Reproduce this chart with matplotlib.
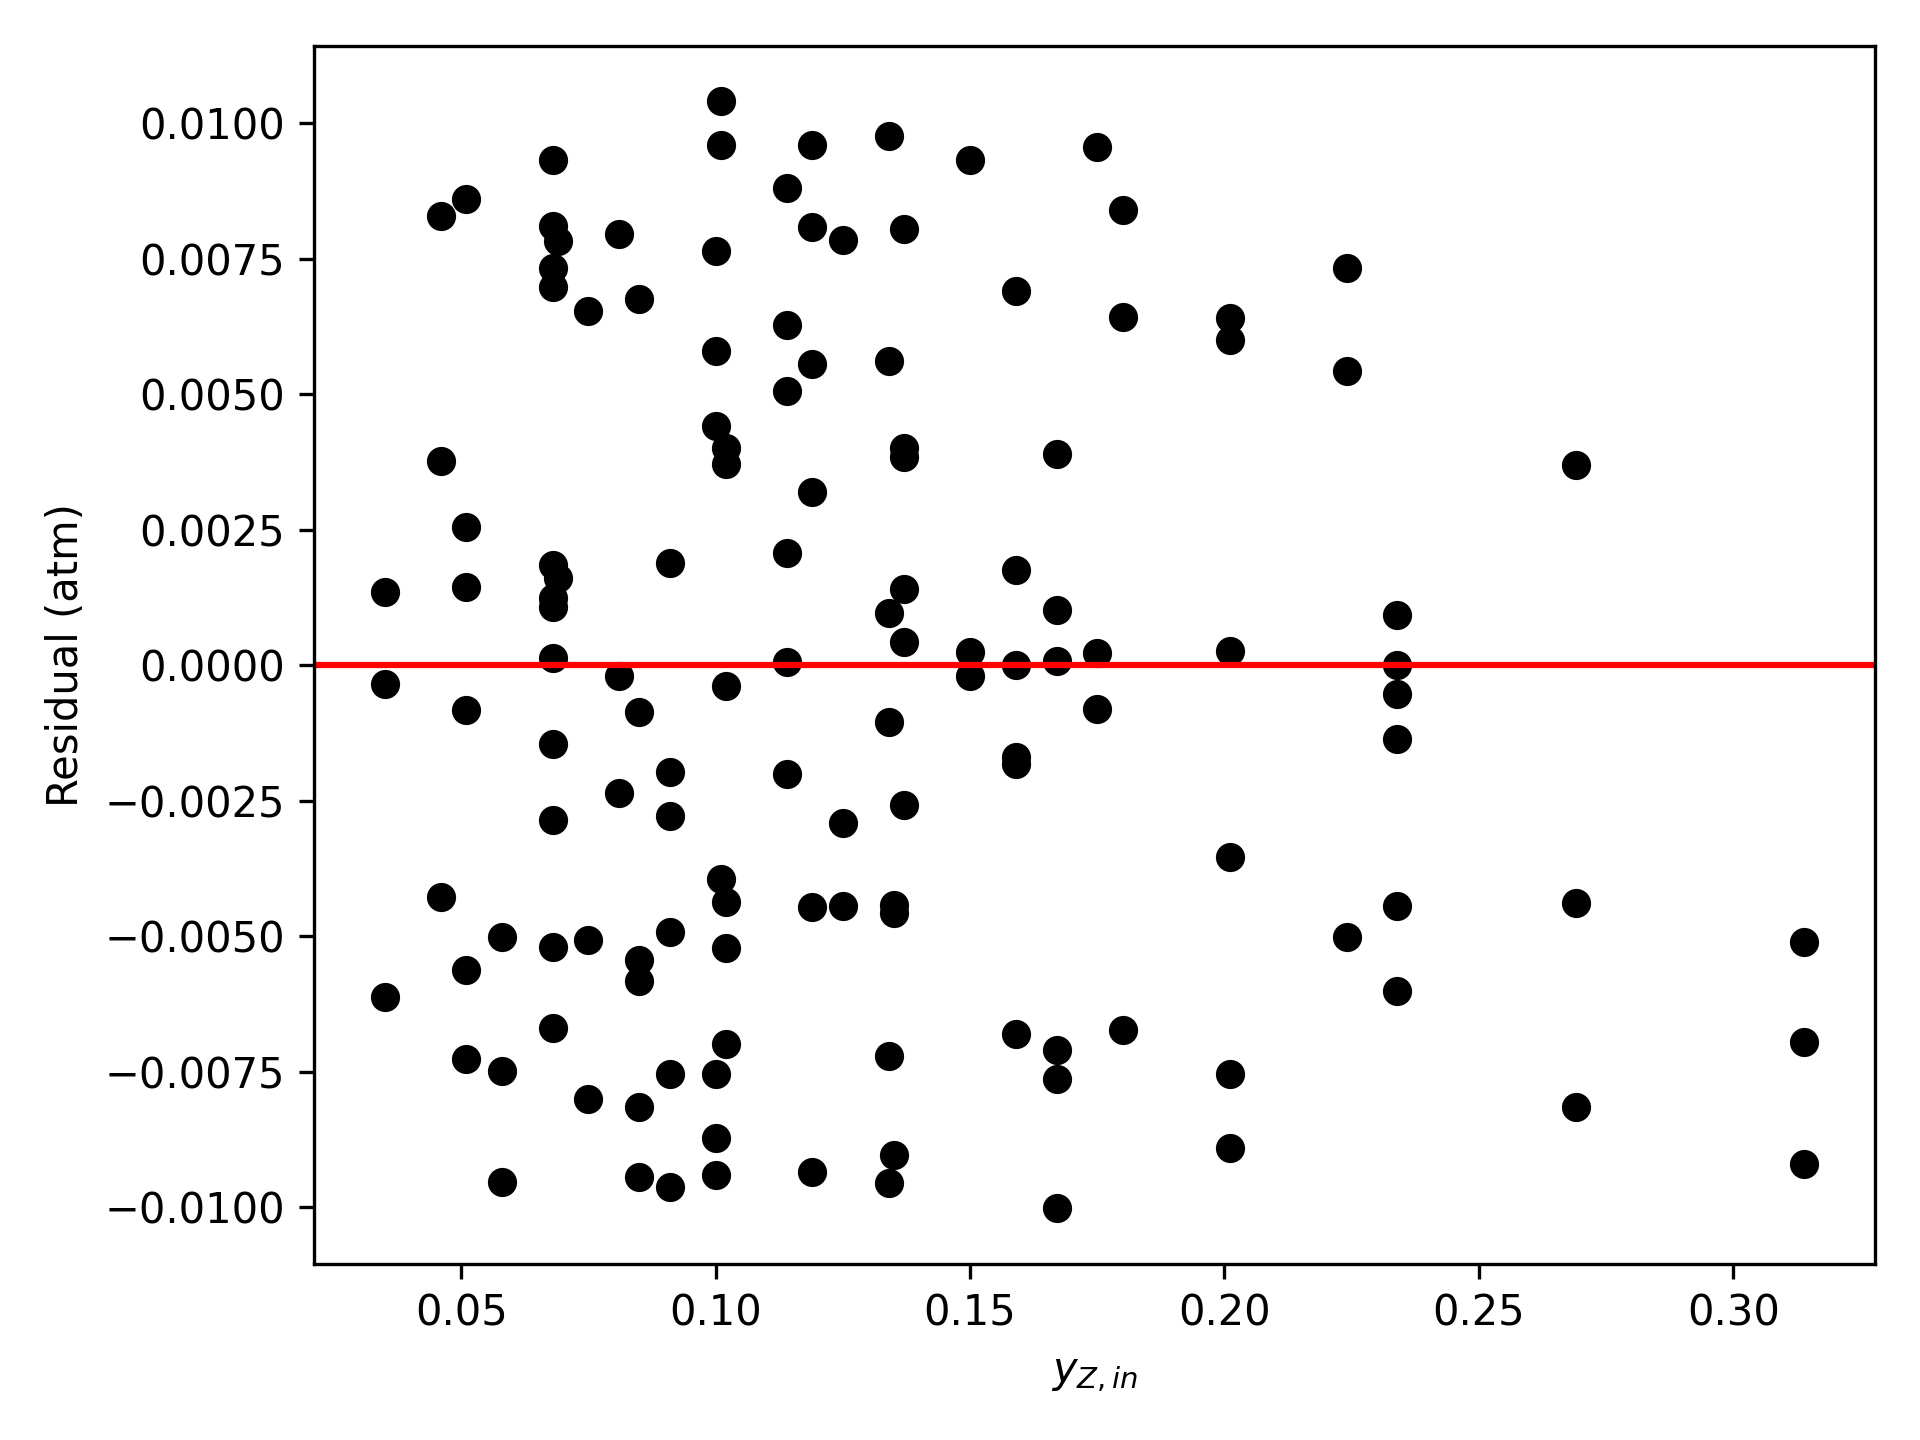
import numpy as np
import matplotlib
matplotlib.use('Agg')
import matplotlib.pyplot as plt

# inlet mole fraction of Z and the residuals read for each group of runs
y_z_in = [
    0.035, 0.035, 0.035,
    0.046, 0.046, 0.046,
    0.051, 0.051, 0.051, 0.051, 0.051, 0.051,
    0.058, 0.058, 0.058,
    0.068, 0.068, 0.068, 0.068, 0.068, 0.068, 0.068, 0.068, 0.068, 0.068, 0.068, 0.068,
    0.069, 0.069,
    0.075, 0.075, 0.075,
    0.081, 0.081, 0.081,
    0.085, 0.085, 0.085, 0.085, 0.085, 0.085,
    0.091, 0.091, 0.091, 0.091, 0.091, 0.091,
    0.100, 0.100, 0.100, 0.100, 0.100, 0.100,
    0.101, 0.101, 0.101,
    0.102, 0.102, 0.102, 0.102, 0.102, 0.102,
    0.114, 0.114, 0.114, 0.114, 0.114, 0.114,
    0.119, 0.119, 0.119, 0.119, 0.119, 0.119,
    0.125, 0.125, 0.125,
    0.134, 0.134, 0.134, 0.134, 0.134, 0.134,
    0.135, 0.135, 0.135,
    0.137, 0.137, 0.137, 0.137, 0.137, 0.137,
    0.150, 0.150, 0.150,
    0.159, 0.159, 0.159, 0.159, 0.159, 0.159,
    0.167, 0.167, 0.167, 0.167, 0.167, 0.167,
    0.175, 0.175, 0.175,
    0.180, 0.180, 0.180,
    0.201, 0.201, 0.201, 0.201, 0.201, 0.201,
    0.224, 0.224, 0.224,
    0.234, 0.234, 0.234, 0.234, 0.234, 0.234,
    0.269, 0.269, 0.269,
    0.314, 0.314, 0.314,
]

residual = [
    0.00135, -0.00034, -0.00613,
    0.00829, 0.00376, -0.00428,
    0.00860, 0.00255, 0.00144, -0.00083, -0.00563, -0.00727,
    -0.00502, -0.00748, -0.00953,
    0.00932, 0.00811, 0.00732, 0.00698, 0.00184, 0.00124, 0.00107, 0.00014, -0.00145, -0.00286, -0.00520, -0.00670,
    0.00783, 0.00160,
    0.00653, -0.00507, -0.00800,
    0.00795, -0.00020, -0.00236,
    0.00676, -0.00086, -0.00544, -0.00583, -0.00815, -0.00945,
    0.00189, -0.00197, -0.00278, -0.00493, -0.00754, -0.00962,
    0.00764, 0.00580, 0.00442, -0.00754, -0.00873, -0.00941,
    0.01041, 0.00959, -0.00394,
    0.00400, 0.00371, -0.00038, -0.00437, -0.00521, -0.00698,
    0.00881, 0.00628, 0.00505, 0.00207, 0.00005, -0.00200,
    0.00959, 0.00809, 0.00556, 0.00320, -0.00446, -0.00935,
    0.00784, -0.00291, -0.00444,
    0.00977, 0.00561, 0.00097, -0.00104, -0.00721, -0.00955,
    -0.00443, -0.00458, -0.00903,
    0.00804, 0.00400, 0.00384, 0.00140, 0.00043, -0.00257,
    0.00932, 0.00025, -0.00020,
    0.00691, 0.00176, 0.00000, -0.00169, -0.00182, -0.00680,
    0.00390, 0.00101, 0.00007, -0.00709, -0.00764, -0.01002,
    0.00955, 0.00023, -0.00081,
    0.00840, 0.00642, -0.00673,
    0.00640, 0.00599, 0.00027, -0.00354, -0.00755, -0.00890,
    0.00732, 0.00543, -0.00502,
    0.00092, 0.00000, -0.00054, -0.00137, -0.00444, -0.00601,
    0.00369, -0.00439, -0.00815,
    -0.00511, -0.00696, -0.00921,
]


def main():
    fig = plt.figure(figsize=(6.4, 4.8), dpi=300)
    fig.subplots_adjust(left=0.1635, right=0.9768, top=0.9684, bottom=0.1224)
    ax = fig.add_subplot(111)

    ax.scatter(np.array(y_z_in), np.array(residual), color='k')
    ax.axhline(0, color='r')

    ax.set_xlabel('$y_{Z,in}$')
    ax.set_ylabel('Residual (atm)')

    fig.savefig('out.png', dpi=300)


if __name__ == "__main__":
    main()
